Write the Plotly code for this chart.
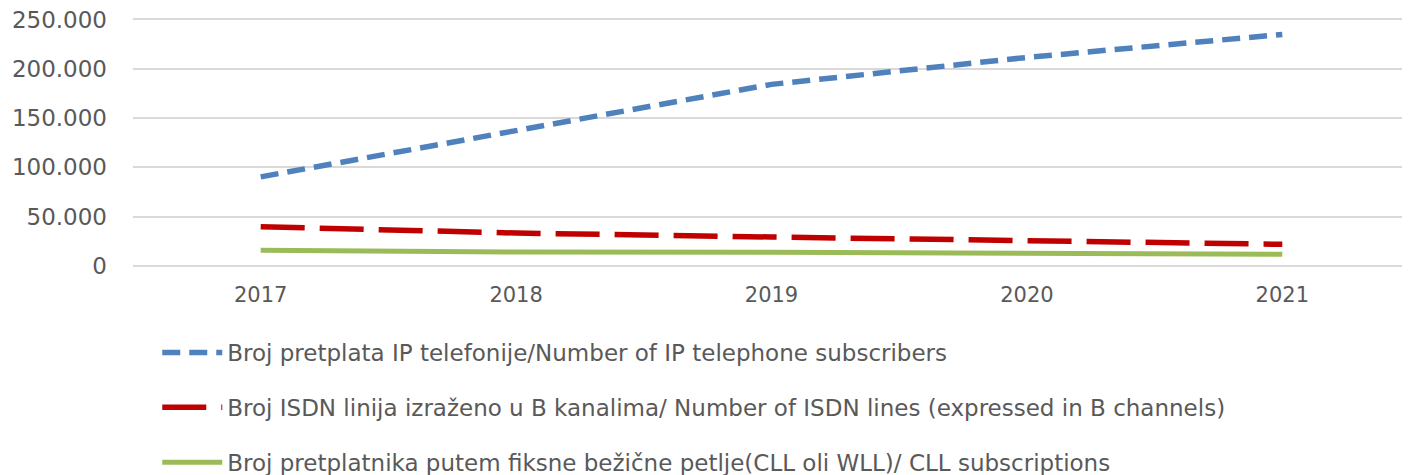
import plotly.graph_objects as go

years = ["2017", "2018", "2019", "2020", "2021"]
ip_subs = [90400, 137600, 184200, 211500, 234800]
isdn_lines = [39800, 33400, 29400, 25300, 22000]
cll_subs = [15900, 14200, 14000, 12500, 11800]

names = [
    "Broj pretplata IP telefonije/Number of IP telephone subscribers",
    "Broj ISDN linija izraženo u B kanalima/ Number of ISDN lines (expressed in B channels)",
    "Broj pretplatnika putem fiksne bežične petlje(CLL oli WLL)/ CLL subscriptions",
]

fig = go.Figure()
fig.add_trace(go.Scatter(x=years, y=ip_subs, mode="lines", name=names[0], legendgroup="a",
                         line=dict(color="#4f81bd", width=5.5, dash="18px,9px")))
fig.add_trace(go.Scatter(x=years, y=isdn_lines, mode="lines", name=names[1], legendgroup="b",
                         line=dict(color="#c00000", width=5.5, dash="44px,15px")))
fig.add_trace(go.Scatter(x=years, y=cll_subs, mode="lines", name=names[2], legendgroup="c",
                         line=dict(color="#9bbb59", width=5)))

fig.update_layout(
    width=1402, height=467,
    margin=dict(l=125, r=0, t=10, b=209, autoexpand=False),
    paper_bgcolor="white", plot_bgcolor="white",
    font=dict(family="DejaVu Sans", color="#595959", size=21),
    showlegend=True,
    legend=dict(orientation="v", x=0.019, xanchor="left", y=-0.262, yanchor="top",
                font=dict(size=23, color="#595959"), tracegroupgap=22,
                itemwidth=60),
)
fig.update_xaxes(type="category", range=[-0.5, 4.5], showgrid=False, showline=False,
                 ticks="", tickfont=dict(size=21, color="#595959"), ticklabelstandoff=14,
                 automargin=False)
fig.update_yaxes(range=[0, 251500], tickvals=[0, 50000, 100000, 150000, 200000, 250000],
                 ticktext=["0", "50.000", "100.000", "150.000", "200.000", "250.000"],
                 showgrid=True, gridcolor="#d9d9d9", gridwidth=1.5, zeroline=True,
                 zerolinecolor="#d9d9d9", zerolinewidth=1.5, showline=False,
                 tickfont=dict(size=23, color="#595959"), ticklabelstandoff=25,
                 ticklabeloverflow="allow", automargin=False)

fig.write_html("out.html")
